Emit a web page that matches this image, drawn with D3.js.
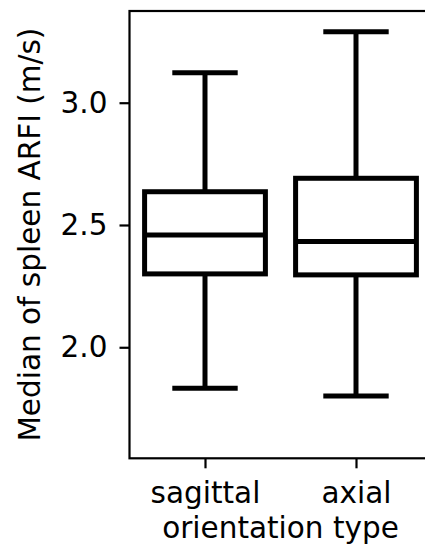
<!DOCTYPE html>
<html>
<head>
<meta charset="utf-8">
<script src="https://cdn.jsdelivr.net/npm/d3@7"></script>
<style>
  html, body { margin: 0; padding: 0; background: #fff; }
  svg { display: block; }
  text { font-family: "DejaVu Sans", sans-serif; fill: #000; }
</style>
</head>
<body>
<svg id="chart" width="425" height="551"></svg>
<script>
// Data
const categories = ["sagittal", "axial"];
const whiskerLow = [1.832, 1.801];
const q1 = [2.300, 2.296];
const medians = [2.459, 2.432];
const q3 = [2.636, 2.691];
const whiskerHigh = [3.123, 3.290];
const yTicks = [2.0, 2.5, 3.0];
const yLabel = "Median of spleen ARFI (m/s)";
const xLabel = "orientation type";

const svg = d3.select("#chart");
const plot = { left: 129.5, top: 11, bottom: 458.3 };
const catStep = 151;
const plotRight = plot.left + catStep * categories.length;

const x = d3.scaleLinear().domain([-0.5, categories.length - 0.5]).range([plot.left, plotRight]);
const y = d3.scaleLinear().domain([1.546, 3.375]).range([plot.bottom, plot.top]);

const FS = 29.5;
const LW = 5;

const data = categories.map((c, i) => ({
  c, i, lo: whiskerLow[i], q1: q1[i], med: medians[i], q3: q3[i], hi: whiskerHigh[i]
}));
const g = svg.append("g");
const boxW = 0.8, capW = 0.4;
data.forEach(d => {
  g.append("line").attr("x1", x(d.i)).attr("x2", x(d.i)).attr("y1", y(d.q3)).attr("y2", y(d.hi))
    .attr("stroke", "#000").attr("stroke-width", LW);
  g.append("line").attr("x1", x(d.i)).attr("x2", x(d.i)).attr("y1", y(d.q1)).attr("y2", y(d.lo))
    .attr("stroke", "#000").attr("stroke-width", LW);
  [d.hi, d.lo].forEach(v => {
    g.append("line").attr("x1", x(d.i - capW / 2)).attr("x2", x(d.i + capW / 2))
      .attr("y1", y(v)).attr("y2", y(v))
      .attr("stroke", "#000").attr("stroke-width", LW).attr("stroke-linecap", "square");
  });
  g.append("rect").attr("x", x(d.i - boxW / 2)).attr("width", x(d.i + boxW / 2) - x(d.i - boxW / 2))
    .attr("y", y(d.q3)).attr("height", y(d.q1) - y(d.q3))
    .attr("fill", "#fff").attr("stroke", "#000").attr("stroke-width", LW);
  g.append("line").attr("x1", x(d.i - boxW / 2)).attr("x2", x(d.i + boxW / 2))
    .attr("y1", y(d.med)).attr("y2", y(d.med))
    .attr("stroke", "#000").attr("stroke-width", LW);
});

svg.append("rect").attr("x", plot.left).attr("y", plot.top)
  .attr("width", plotRight - plot.left).attr("height", plot.bottom - plot.top)
  .attr("fill", "none").attr("stroke", "#000").attr("stroke-width", 2.2);

const yAxis = d3.axisLeft(y).tickValues(yTicks).tickFormat(d3.format(".1f"))
  .tickSize(10).tickPadding(12);
const ya = svg.append("g").attr("transform", `translate(${plot.left},0)`).call(yAxis);
ya.attr("font-size", null).attr("font-family", null);
ya.select(".domain").remove();
ya.selectAll(".tick line").attr("stroke", "#000").attr("stroke-width", 2.2);
ya.selectAll(".tick text").attr("font-size", FS).attr("fill", "#000");

const xAxis = d3.axisBottom(x).tickValues(categories.map((c, i) => i))
  .tickFormat(i => categories[i]).tickSize(10).tickPadding(14);
const xa = svg.append("g").attr("transform", `translate(0,${plot.bottom})`).call(xAxis);
xa.attr("font-size", null).attr("font-family", null);
xa.select(".domain").remove();
xa.selectAll(".tick line").attr("stroke", "#000").attr("stroke-width", 2.2);
xa.selectAll(".tick text").attr("font-size", FS).attr("fill", "#000");

svg.append("text").attr("x", (plot.left + plotRight) / 2).attr("y", 538)
  .attr("text-anchor", "middle").attr("font-size", FS).text(xLabel);
svg.append("text")
  .attr("transform", `translate(40,${(plot.top + plot.bottom) / 2}) rotate(-90)`)
  .attr("text-anchor", "middle").attr("font-size", FS).text(yLabel);
</script>
</body>
</html>
